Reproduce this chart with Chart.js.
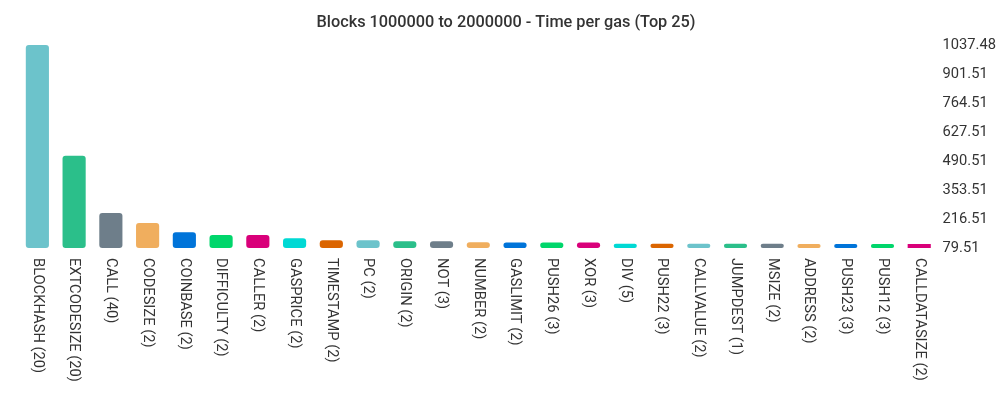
<!DOCTYPE html>
<html>
<head>
<meta charset="utf-8">
<script src="https://cdn.jsdelivr.net/npm/chart.js@4/dist/chart.umd.min.js"></script>
<style>
  html, body { margin: 0; padding: 0; background: #fff; }
  #wrap { width: 1000px; height: 400px; }
</style>
</head>
<body>
<div id="wrap"><canvas id="myChart"></canvas></div>
<script>
// Opcodes (with count) and their time per gas
var opcodes = ['BLOCKHASH (20)', 'EXTCODESIZE (20)', 'CALL (40)', 'CODESIZE (2)', 'COINBASE (2)',
    'DIFFICULTY (2)', 'CALLER (2)', 'GASPRICE (2)', 'TIMESTAMP (2)', 'PC (2)', 'ORIGIN (2)',
    'NOT (3)', 'NUMBER (2)', 'GASLIMIT (2)', 'PUSH26 (3)', 'XOR (3)', 'DIV (5)', 'PUSH22 (3)',
    'CALLVALUE (2)', 'JUMPDEST (1)', 'MSIZE (2)', 'ADDRESS (2)', 'PUSH23 (3)', 'PUSH12 (3)',
    'CALLDATASIZE (2)'];
var timePerGas = [1037.48, 515, 245, 197, 154, 141, 141, 126, 116, 116, 111, 111, 107, 106,
    106, 105, 100, 100, 100, 100, 100, 97, 94, 94, 79.51];
var yTicks = [79.51, 216.51, 353.51, 490.51, 627.51, 764.51, 901.51, 1037.48];
var palette = ['#6cc3cb', '#2bbf8a', '#6e7e8a', '#f0ae5e', '#0074d9', '#00d66b', '#d9007a', '#00d9d4', '#db6500'];

var yMin = yTicks[0];
var yMax = yTicks[yTicks.length - 1];

var barColors = opcodes.map(function(label, i) {
    return palette[i % palette.length];
});

// Draw the x labels rotated clockwise, reading top to bottom
var downLabels = {
    id: 'downLabels',
    afterDraw: function(chart) {
        var ctx = chart.ctx;
        var xScale = chart.scales.x;
        ctx.save();
        ctx.font = '14.7px Roboto';
        ctx.fillStyle = '#333';
        ctx.textAlign = 'left';
        ctx.textBaseline = 'middle';
        opcodes.forEach(function(label, i) {
            ctx.save();
            ctx.translate(xScale.getPixelForValue(i), chart.chartArea.bottom + 10);
            ctx.rotate(Math.PI / 2);
            ctx.fillText(label, 0, 0);
            ctx.restore();
        });
        ctx.restore();
    }
};

var ctx = document.getElementById('myChart').getContext('2d');
var myChart = new Chart(ctx, {
    type: 'bar',
    data: {
        labels: opcodes,
        datasets: [{
            data: timePerGas,
            base: yMin,
            backgroundColor: barColors,
            borderRadius: function(c) {
                return timePerGas[c.dataIndex] <= yMin ? 0 : 3;
            },
            borderSkipped: false,
            minBarLength: 4,
            clip: false,
            barPercentage: 0.7,
            categoryPercentage: 0.9
        }]
    },
    options: {
        responsive: true,
        maintainAspectRatio: false,
        animation: false,
        layout: {
            padding: { left: 19, right: 7, top: 0, bottom: 144 }
        },
        plugins: {
            legend: { display: false },
            tooltip: { enabled: false },
            title: {
                display: true,
                text: 'Blocks 1000000 to 2000000 - Time per gas (Top 25)',
                color: '#333',
                font: { family: 'Roboto', size: 16.3, weight: '500' },
                padding: { top: 13, bottom: 12.5 }
            }
        },
        scales: {
            x: {
                grid: { display: false },
                border: { display: false },
                ticks: { display: false }
            },
            y: {
                position: 'right',
                min: yMin,
                max: yMax,
                grid: { display: false },
                border: { display: false },
                afterBuildTicks: function(scale) {
                    scale.ticks = yTicks.map(function(v) { return { value: v }; });
                },
                afterFit: function(scale) {
                    // labels sit slightly over the plot edge, so don't clip them
                    scale._computeLabelArea = function() {};
                },
                ticks: {
                    color: '#333',
                    font: { family: 'Roboto', size: 14.7 },
                    padding: -3,
                    callback: function(value) { return value.toFixed(2); }
                }
            }
        }
    },
    plugins: [downLabels]
});
</script>
</body>
</html>
